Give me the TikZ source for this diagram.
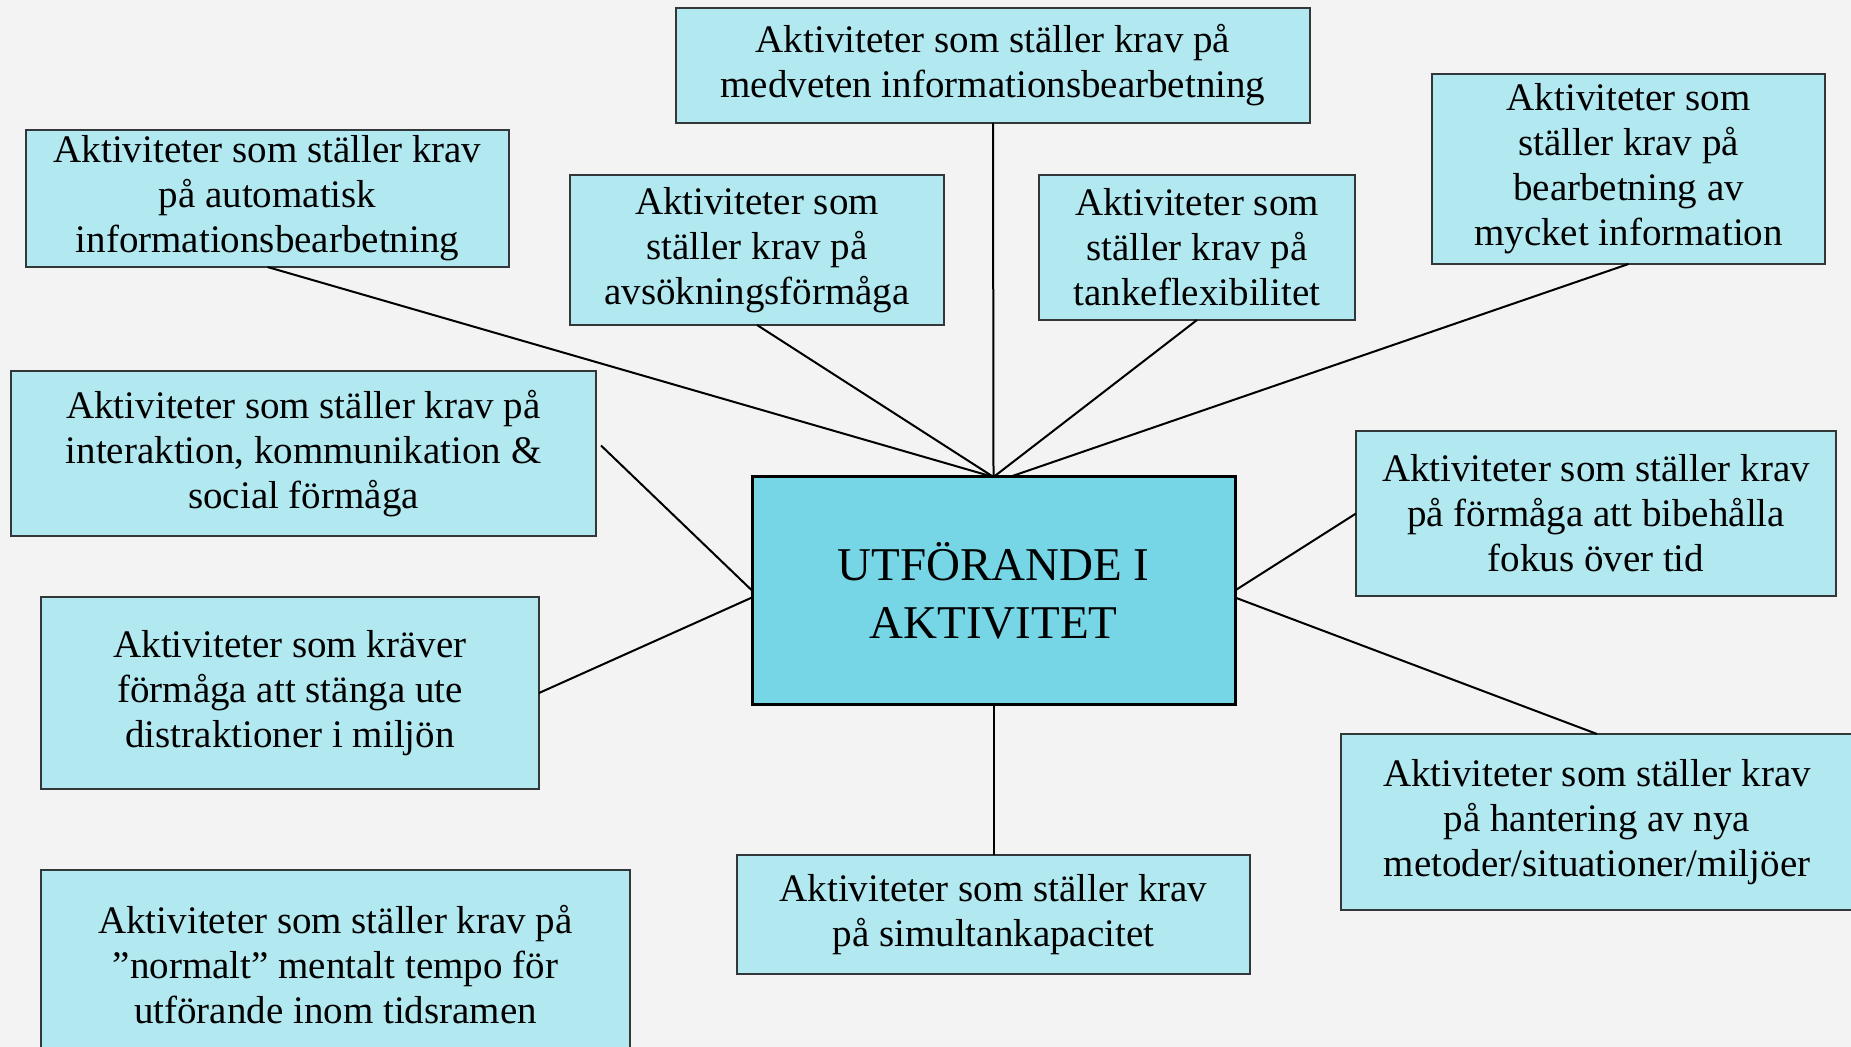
\documentclass[tikz,border=0pt]{standalone}
\usepackage{fontspec}
\setmainfont{Liberation Serif}
\usetikzlibrary{positioning}
\definecolor{bg}{RGB}{243,243,243}
\definecolor{boxfill}{RGB}{178,232,240}
\definecolor{mainfill}{RGB}{118,214,230}
\definecolor{boxline}{RGB}{50,55,58}

\begin{document}
\begin{tikzpicture}[x=0.5pt, y=-0.5pt, bx/.style={rectangle, draw=boxline, fill=boxfill, line width=.75pt, inner sep=0pt, outer sep=0pt, align=center, font=\fontsize{19.5pt}{22.5pt}\selectfont}, mn/.style={fill=mainfill, draw=black, line width=1.5pt, font=\fontsize{23.5pt}{29pt}\selectfont}, ln/.style={line width=1pt, draw=black}]
		\useasboundingbox (0,0) rectangle (1851,1047);
		\fill[bg] (0,0) rectangle (1851,1047);

		\node[bx, mn, minimum width=241.5pt, minimum height=113.5pt] (ctr) at (993.5,590.5) {UTFÖRANDE I\\AKTIVITET};

		\node[bx, minimum width=317pt, minimum height=57.5pt] (med) at (993,65.5) {Aktiviteter som ställer krav på\\medveten informationsbearbetning};
		\node[bx, minimum width=241.5pt, minimum height=68.5pt] (auto) at (267.5,198.5) {Aktiviteter som ställer krav\\på automatisk\\informationsbearbetning};
		\node[bx, minimum width=187pt, minimum height=75pt] (avs) at (757,250) {Aktiviteter som\\ställer krav på\\avsökningsförmåga};
		\node[bx, minimum width=158pt, minimum height=72.5pt] (tanke) at (1197,247.5) {Aktiviteter som\\ställer krav på\\tankeflexibilitet};
		\node[bx, minimum width=196.5pt, minimum height=95pt] (mycket) at (1628.5,169) {Aktiviteter som\\ställer krav på\\bearbetning av\\mycket information};
		\node[bx, minimum width=292.5pt, minimum height=82.5pt] (inter) at (303.5,453.5) {Aktiviteter som ställer krav på\\interaktion, kommunikation \&\\social förmåga};
		\node[bx, minimum width=240pt, minimum height=82.5pt] (fokus) at (1596,513.5) {Aktiviteter som ställer krav\\på förmåga att bibehålla\\fokus över tid};
		\node[bx, minimum width=249pt, minimum height=96pt] (distr) at (290,693) {Aktiviteter som kräver\\förmåga att stänga ute\\distraktioner i miljön};
		\node[bx, minimum width=256pt, minimum height=88pt] (nya) at (1597,822) {Aktiviteter som ställer krav\\på hantering av nya\\metoder/situationer/miljöer};
		\node[bx, minimum width=256.5pt, minimum height=59.5pt] (simul) at (993.5,914.5) {Aktiviteter som ställer krav\\på simultankapacitet};
		\node[bx, minimum width=294.5pt, minimum height=95pt] (tempo) at (335.5,965) {Aktiviteter som ställer krav på\\”normalt” mentalt tempo för\\utförande inom tidsramen};

		% upper fan
		\draw[ln] (med.south) -- (ctr.north);
		\draw[ln] (auto.south) -- (ctr.north);
		\draw[ln] (avs.south) -- (ctr.north);
		\draw[ln] (tanke.south) -- (ctr.north);
		\draw[ln] (mycket.south) -- ([xshift=8pt]ctr.north);
		% sides and below
		\draw[ln] ([xshift=2.5pt, yshift=4pt]inter.east) -- (ctr.west);
		\draw[ln] (distr.east) -- ([yshift=-3.5pt]ctr.west);
		\draw[ln] (fokus.west) -- (ctr.east);
		\draw[ln] (nya.north) -- ([yshift=-3.5pt]ctr.east);
		\draw[ln] (simul.north) -- (ctr.south);
	\end{tikzpicture}
\end{document}
